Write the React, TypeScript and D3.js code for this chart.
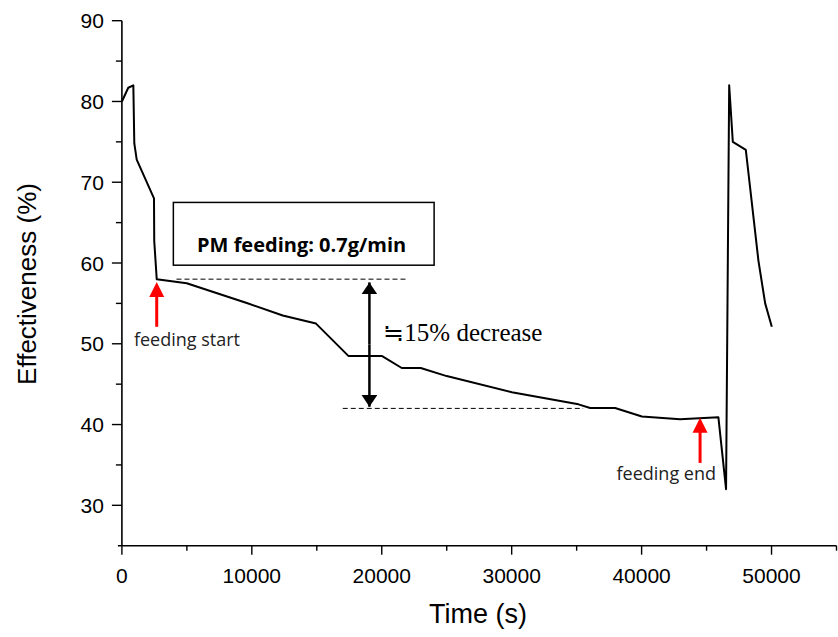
import React from "react";
import * as d3 from "d3";

const timeS = [0, 490, 880, 955, 1140, 2470, 2490, 2680, 4990, 9610, 12380, 14940, 17430, 20000, 21540, 23000, 25000, 30010, 35140, 36040, 37960, 40020, 42960, 45910, 46500, 46740, 47020, 48020, 48990, 49510, 50020];
const effectiveness = [80, 81.7, 82, 74.8, 72.8, 68, 62.7, 58, 57.5, 55.05, 53.5, 52.5, 48.5, 48.5, 47.0, 47.0, 46.0, 44.0, 42.5, 42.05, 42.05, 41.0, 40.65, 40.9, 32.0, 82.0, 75.0, 74.0, 60.3, 55.0, 52.1];

const xMajorTicks = [0, 10000, 20000, 30000, 40000, 50000];
const xMinorTicks = [5000, 15000, 25000, 35000, 45000, 55000];
const yMajorTicks = [30, 40, 50, 60, 70, 80, 90];
const yMinorTicks = [35, 45, 55, 65, 75, 85];

const dashedLevels = [
  { x1: 4200, x2: 21900, y: 58 },
  { x1: 17000, x2: 35500, y: 42 },
];
const decreaseArrow = { x: 19050, yTop: 57.6, yBottom: 42.2, label: "≒15% decrease", labelX: 20120, labelY: 50.4 };
const feedBox = { x1: 3960, x2: 24030, yTop: 67.5, yBottom: 59.73, label: "PM feeding: 0.7g/min", labelX: 13830, labelY: 61.37 };
const redArrows = [
  { x: 2680, tip: 57.65, tail: 52.1, label: "feeding start", labelX: 5010, labelY: 49.7 },
  { x: 44500, tip: 40.85, tail: 35.25, label: "feeding end", labelX: 41900, labelY: 33.13 },
];

const W = 838;
const H = 637;

export default function App() {
  const x = d3.scaleLinear().domain([0, 55000]).range([121.9, 836.5]);
  const y = d3.scaleLinear().domain([25, 90]).range([545.7, 20.7]);
  const line = d3
    .line<number>()
    .x((_, i) => x(timeS[i]))
    .y((d) => y(d));
  const axisFont = "'Liberation Sans', Arial, sans-serif";
  const noteFont = "'Open Sans', sans-serif";

  const y0 = y(25);
  const x0 = x(0);

  return (
    <div style={{ position: "absolute", left: 0, top: 0 }}>
      <svg width={W} height={H} style={{ display: "block", background: "#fff" }}>
        <defs>
          <marker id="blackHead" viewBox="0 0 12 16" refX="12" refY="8" markerWidth="12" markerHeight="16" markerUnits="userSpaceOnUse" orient="auto">
            <path d="M0,0 L12,8 L0,16 Z" fill="#000" />
          </marker>
        </defs>
        {/* axes */}
        <line x1={x0 - 4} x2={x(55000)} y1={y0} y2={y0} stroke="#000" strokeWidth={1.6} />
        <line x1={x0} x2={x0} y1={y(90)} y2={y0} stroke="#000" strokeWidth={1.6} />
        {xMajorTicks.map((t) => (
          <g key={"xm" + t}>
            <line x1={x(t)} x2={x(t)} y1={y0} y2={y0 + 9} stroke="#000" strokeWidth={1.4} />
            <text x={x(t)} y={y0 + 37} textAnchor="middle" fontFamily={axisFont} fontSize={21} fill="#000">
              {t}
            </text>
          </g>
        ))}
        {xMinorTicks.map((t) => (
          <line key={"xn" + t} x1={x(t)} x2={x(t)} y1={y0} y2={y0 + 5} stroke="#000" strokeWidth={1.4} />
        ))}
        {yMajorTicks.map((t) => (
          <g key={"ym" + t}>
            <line x1={x0 - 10} x2={x0} y1={y(t)} y2={y(t)} stroke="#000" strokeWidth={1.4} />
            <text x={x0 - 18} y={y(t)} dy="0.36em" textAnchor="end" fontFamily={axisFont} fontSize={21} fill="#000">
              {t}
            </text>
          </g>
        ))}
        {yMinorTicks.map((t) => (
          <line key={"yn" + t} x1={x0 - 6} x2={x0} y1={y(t)} y2={y(t)} stroke="#000" strokeWidth={1.4} />
        ))}
        <text x={478} y={623} textAnchor="middle" fontFamily={axisFont} fontSize={27} fill="#000">
          Time (s)
        </text>
        <text transform={`translate(36,284) rotate(-90)`} textAnchor="middle" fontFamily={axisFont} fontSize={26} fill="#000">
          Effectiveness (%)
        </text>

        {/* data line */}
        <path d={line(effectiveness) || ""} fill="none" stroke="#000" strokeWidth={2} strokeLinejoin="round" />

        {/* annotation box */}
        <rect x={x(feedBox.x1)} y={y(feedBox.yTop)} width={x(feedBox.x2) - x(feedBox.x1)} height={y(feedBox.yBottom) - y(feedBox.yTop)} fill="#fff" stroke="#000" strokeWidth={1.5} />
        <text x={x(feedBox.labelX)} y={y(feedBox.labelY)} textAnchor="middle" fontFamily={noteFont} fontWeight="bold" fontSize={20} fill="#000">
          {feedBox.label}
        </text>

        {/* dashed levels */}
        {dashedLevels.map((d, i) => (
          <line key={"dl" + i} x1={x(d.x1)} x2={x(d.x2)} y1={y(d.y)} y2={y(d.y)} stroke="#000" strokeWidth={1} strokeDasharray="5,3" />
        ))}

        {/* double arrow */}
        <line x1={x(decreaseArrow.x)} x2={x(decreaseArrow.x)} y1={(y(decreaseArrow.yTop) + y(decreaseArrow.yBottom)) / 2} y2={y(decreaseArrow.yTop)} stroke="#000" strokeWidth={2.5} markerEnd="url(#blackHead)" />
        <line x1={x(decreaseArrow.x)} x2={x(decreaseArrow.x)} y1={(y(decreaseArrow.yTop) + y(decreaseArrow.yBottom)) / 2} y2={y(decreaseArrow.yBottom)} stroke="#000" strokeWidth={2.5} markerEnd="url(#blackHead)" />
        <text x={x(decreaseArrow.labelX)} y={y(decreaseArrow.labelY)} fontFamily="'Liberation Serif', 'Times New Roman', serif" fontSize={25} fill="#000">
          {decreaseArrow.label}
        </text>

        {/* red arrows */}
        {redArrows.map((a, i) => {
          const px = x(a.x);
          const tipY = y(a.tip);
          const tailY = y(a.tail);
          return (
            <g key={"ra" + i}>
              <line x1={px} x2={px} y1={tailY} y2={tipY + 12} stroke="#ff0000" strokeWidth={3} />
              <path d={`M${px},${tipY} L${px + 7.5},${tipY + 15} L${px - 7.5},${tipY + 15} Z`} fill="#ff0000" />
              <text x={x(a.labelX)} y={y(a.labelY)} textAnchor="middle" fontFamily={noteFont} fontSize={18} fill="#222">
                {a.label}
              </text>
            </g>
          );
        })}
      </svg>
    </div>
  );
}
